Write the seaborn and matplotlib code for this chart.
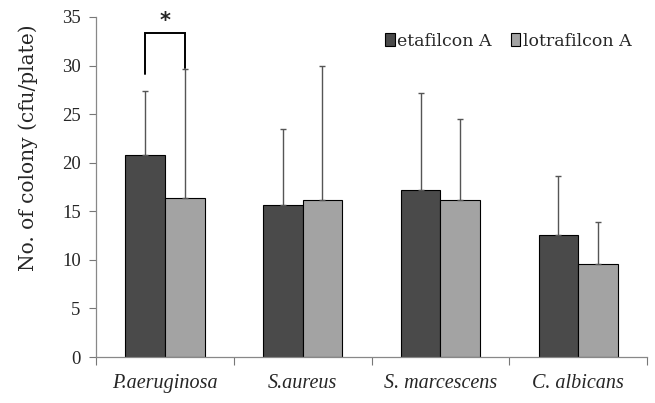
import matplotlib
matplotlib.use("Agg")
import matplotlib.pyplot as plt
import seaborn as sns
import pandas as pd
import numpy as np

categories = ["P.aeruginosa", "S.aureus", "S. marcescens", "C. albicans"]
series = ["etafilcon A", "lotrafilcon A"]
etafilcon = [20.8, 15.6, 17.2, 12.6]
lotrafilcon = [16.4, 16.2, 16.2, 9.6]
etafilcon_top = [27.4, 23.5, 27.2, 18.6]
lotrafilcon_top = [29.6, 30.0, 24.5, 13.9]
yticks = [0, 5, 10, 15, 20, 25, 30, 35]

sns.set_theme(style="white")
plt.rcParams['font.family'] = ['Liberation Serif', 'DejaVu Serif']

df = pd.DataFrame({
    "category": categories * 2,
    "series": [series[0]] * 4 + [series[1]] * 4,
    "value": etafilcon + lotrafilcon,
})

fig = plt.figure(figsize=(6.55, 4.03), dpi=100)
ax = fig.add_axes([0.1466, 0.114, 0.988 - 0.1466, 0.958 - 0.114])

palette = {series[0]: "#4a4a4a", series[1]: "#a3a3a3"}
sns.barplot(data=df, x="category", y="value", hue="series", order=categories,
            hue_order=series, palette=palette, width=0.575, errorbar=None,
            edgecolor="black", linewidth=0.8, ax=ax, saturation=1)

tops = {series[0]: etafilcon_top, series[1]: lotrafilcon_top}
vals = {series[0]: etafilcon, series[1]: lotrafilcon}
centers = {}
for cont, s in zip(ax.containers, series):
    xs = [p.get_x() + p.get_width() / 2 for p in cont.patches]
    centers[s] = xs
    up = np.array(tops[s]) - np.array(vals[s])
    ax.errorbar(xs, vals[s], yerr=[np.zeros(4), up], fmt="none",
                ecolor="#555555", elinewidth=1.0, capsize=2.5, capthick=1.0, zorder=1)

# significance bracket
x1, x2 = centers[series[0]][0], centers[series[1]][0]
ax.plot([x1, x1, x2, x2], [29.1, 33.3, 33.3, 29.7], color="black", lw=1.4,
        solid_joinstyle="miter", clip_on=False)
ax.text((x1 + x2) / 2, 33.6, "*", ha="center", va="bottom", fontsize=15,
        fontweight="bold", family="DejaVu Sans")

ax.set_ylim(0, 35)
ax.set_xlim(-0.5, 3.5)
ax.set_yticks(yticks)
ax.set_yticklabels([str(t) for t in yticks], fontsize=13.5)
ax.set_xticks([0, 1, 2, 3])
ax.set_xticklabels(categories, fontsize=14.5, style="italic")
ax.tick_params(axis="x", length=0, pad=12)
ax.tick_params(axis="y", length=5, width=0.8, color="#777777", pad=6, direction="out", left=True)
# category boundary ticks
ax.set_xticks([-0.5, 0.5, 1.5, 2.5, 3.5], minor=True)
ax.tick_params(axis="x", which="minor", length=6, width=0.8, color="#777777", bottom=True)

for s in ["top", "right"]:
    ax.spines[s].set_visible(False)
for s in ["left", "bottom"]:
    ax.spines[s].set_color("#888888")
    ax.spines[s].set_linewidth(0.9)

ax.set_xlabel("")
ax.set_ylabel("No. of colony (cfu/plate)", fontsize=14.5, family="DejaVu Serif")
ax.yaxis.set_label_coords(-0.106, 0.615)

leg = ax.legend(loc="upper right", bbox_to_anchor=(1.0, 1.0), ncol=2, frameon=False,
                prop={"family": "DejaVu Serif", "size": 12.5},
                handlelength=0.55, handleheight=0.75, handletextpad=0.15,
                columnspacing=1.1)
for h in leg.legend_handles:
    h.set_edgecolor("black")
    h.set_linewidth(0.8)

fig.savefig("out.png", dpi=100)
